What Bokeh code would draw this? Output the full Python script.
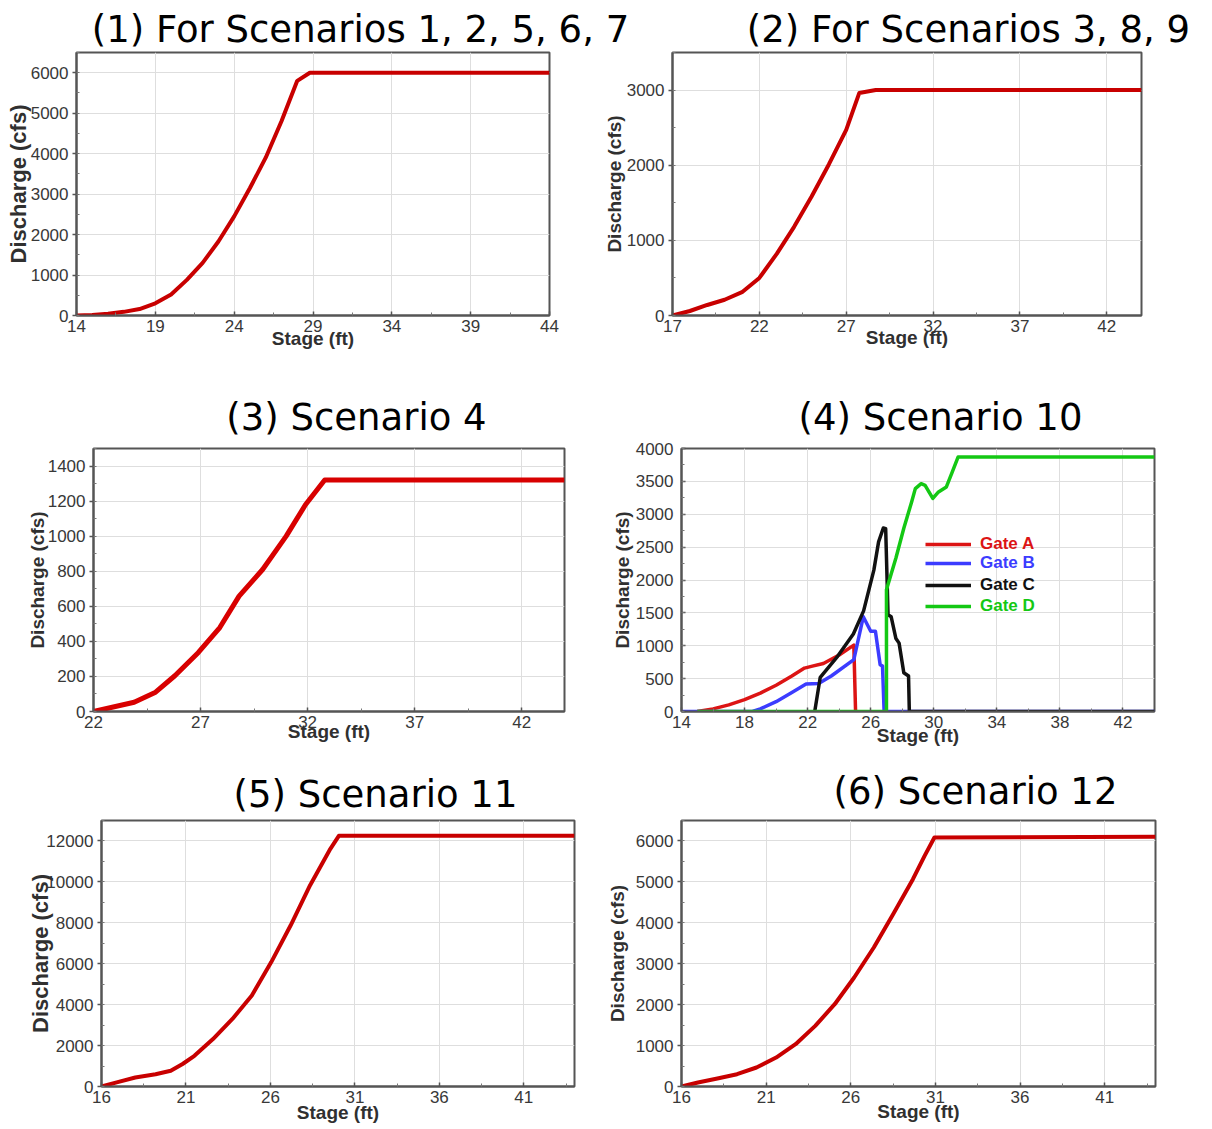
from bokeh.plotting import figure
from bokeh.models import Range1d, FixedTicker, SingleIntervalTicker, Label, Legend, LegendItem
from bokeh.layouts import column, row
from bokeh.embed import file_html
from bokeh.resources import INLINE
from bokeh.core.properties import value

# ---------------- data ----------------
titles = ["(1) For Scenarios 1, 2, 5, 6, 7", "(2) For Scenarios 3, 8, 9",
          "(3) Scenario 4", "(4) Scenario 10", "(5) Scenario 11", "(6) Scenario 12"]
x_label = "Stage (ft)"
y_label = "Discharge (cfs)"

stage1 = [14, 15, 16, 17, 18, 19, 20, 21, 22, 23, 24, 25, 26, 27, 28, 28.8, 44]
flow1 = [0, 15, 45, 90, 160, 300, 520, 880, 1300, 1830, 2450, 3150, 3900, 4800, 5800, 6000, 6000]

stage2 = [17, 18, 19, 20, 21, 22, 23, 24, 25, 26, 27, 27.75, 28.7, 44]
flow2 = [0, 60, 140, 210, 310, 500, 820, 1180, 1580, 2010, 2470, 2960, 3000, 3000]

stage3 = [22, 23.9, 24.9, 25.8, 26.9, 27.9, 28.8, 29.9, 31.0, 31.9, 32.8, 44]
flow3 = [0, 53, 110, 204, 337, 479, 658, 810, 1000, 1179, 1320, 1320]

stage4_a = [15, 16, 17, 18, 19, 20, 21, 21.8, 22.3, 23, 24, 24.93, 25.04]
gate_a = [0, 40, 100, 180, 280, 400, 540, 660, 690, 730, 860, 1010, 0]
stage4_b = [14, 18.5, 19, 20, 21, 21.9, 22.7, 23.5, 24.93, 25.53, 26.0, 26.3, 26.6, 26.75, 26.85, 44]
gate_b = [0, 0, 40, 150, 290, 420, 425, 540, 790, 1440, 1220, 1220, 710, 690, 0, 0]
stage4_c = [22.45, 22.8, 23.9, 24.9, 25.55, 26.2, 26.5, 26.8, 26.95, 27.1, 27.3, 27.6, 27.8, 28.1, 28.4, 28.45, 44]
gate_c = [0, 520, 840, 1180, 1530, 2150, 2580, 2790, 2780, 1470, 1440, 1110, 1040, 590, 540, 0, 0]
stage4_d = [15, 27.0, 27.0, 27.6, 28.1, 28.6, 28.83, 29.2, 29.45, 29.94, 30.3, 30.8, 31.17, 31.54, 44]
gate_d = [0, 0, 1850, 2335, 2787, 3190, 3390, 3465, 3440, 3240, 3340, 3415, 3640, 3870, 3870]
gate_names = ["Gate A", "Gate B", "Gate C", "Gate D"]
gate_colors = ["#dc1414", "#3c3cff", "#111111", "#14c814"]

stage5 = [16, 16.9, 18.0, 19.2, 20.1, 20.8, 21.5, 22.6, 23.75, 24.9, 26.05, 27.2, 28.35, 29.5, 30.05, 44]
flow5 = [0, 200, 440, 600, 770, 1100, 1500, 2320, 3300, 4450, 6080, 7880, 9840, 11550, 12250, 12250]

stage6 = [16, 16.97, 18.12, 19.28, 20.43, 21.59, 22.74, 23.9, 25.05, 26.2, 27.36, 28.5, 29.67, 30.36, 30.94, 44]
flow6 = [0, 98, 195, 301, 464, 708, 1034, 1482, 2011, 2663, 3396, 4210, 5065, 5635, 6083, 6100]

xticks1 = [14, 19, 24, 29, 34, 39, 44]
xticks2 = [17, 22, 27, 32, 37, 42]
xticks3 = [22, 27, 32, 37, 42]
xticks4 = [14, 18, 22, 26, 30, 34, 38, 42]
xticks5 = [16, 21, 26, 31, 36, 41]
xticks6 = [16, 21, 26, 31, 36, 41]

TITLE_FONT = "DejaVu Sans"
AX_FONT = "Liberation Sans"
PAGE_W = 1212


def panel(w, h, borders, xr, yr, xticks, ystep, xstd, ystd, ylab_size, ytick_in=False):
    l, r, t, b = borders
    p = figure(width=w, height=h, x_range=Range1d(*xr), y_range=Range1d(*yr),
               output_backend="svg", toolbar_location=None,
               min_border_left=l, min_border_right=r, min_border_top=t, min_border_bottom=b,
               background_fill_color="white", border_fill_color="white")
    p.outline_line_color = "#555555"
    p.outline_line_width = 2
    step = xticks[1] - xticks[0]
    p.xaxis.ticker = FixedTicker(ticks=xticks,
                                 minor_ticks=[v + step / 2 for v in xticks if v + step / 2 < xr[1]])
    p.yaxis.ticker = SingleIntervalTicker(interval=ystep, num_minor_ticks=2)
    p.grid.grid_line_color = "#dedede"
    p.grid.grid_line_width = 1
    for ax in p.axis:
        ax.axis_line_color = "#555555"
        ax.axis_line_width = 2
        ax.major_tick_line_color = "#555555"
        ax.major_tick_line_width = 1.5
        ax.minor_tick_line_color = "#777777"
        ax.minor_tick_in = 3
        ax.minor_tick_out = 0
        ax.major_label_text_font = AX_FONT
        ax.major_label_text_font_size = "17px"
        ax.major_label_text_color = "#383838"
        ax.axis_label_text_font = AX_FONT
        ax.axis_label_text_font_style = "bold"
        ax.axis_label_text_color = "#303030"
    p.xaxis.axis_label = x_label
    p.xaxis.axis_label_text_font_size = "19px"
    p.xaxis.major_tick_in = 4
    p.xaxis.major_tick_out = 0
    p.xaxis.major_label_standoff = 4
    p.xaxis.axis_label_standoff = xstd
    p.yaxis.axis_label = y_label
    p.yaxis.axis_label_text_font_size = ylab_size
    if ytick_in:
        p.yaxis.major_tick_in = 4
        p.yaxis.major_tick_out = 0
        p.yaxis.major_label_standoff = 8
    else:
        p.yaxis.major_tick_in = 0
        p.yaxis.major_tick_out = 4
        p.yaxis.major_label_standoff = 4
    p.yaxis.axis_label_standoff = ystd
    return p


def band(h, labels):
    b = figure(width=PAGE_W, height=h, x_range=Range1d(0, PAGE_W), y_range=Range1d(0, h),
               output_backend="svg", toolbar_location=None, min_border=0,
               x_axis_type=None, y_axis_type=None, outline_line_color=None,
               background_fill_color="white", border_fill_color="white")
    for (cx, cy, txt) in labels:
        b.add_layout(Label(x=cx, y=cy, text=txt, text_font=TITLE_FONT, text_font_size="37px",
                           text_align="center", text_baseline="middle", text_color="black"))
    return b


RED = "#c80000"

# row 1 : page y 51..380, frames 52..315
p1 = panel(600, 329, (76, 51, 1, 65), (14, 44), (0, 6500), xticks1, 1000, -7, -3, "22px")
p1.line(stage1, flow1, line_color=RED, line_width=4, line_join="round")

p2 = panel(612, 329, (68, 71, 1, 65), (17, 44), (0, 3500), xticks2, 1000, -8, -1, "19px")
p2.line(stage2, flow2, line_color=RED, line_width=4, line_join="round")

# row 2 : page y 438..758, frames 448..711
p3 = panel(600, 320, (93, 36, 10, 47), (22, 44), (0, 1500), xticks3, 200, -10, -3, "19px")
p3.line(stage3, flow3, line_color="#d80000", line_width=5, line_join="round")

p4 = panel(612, 320, (81, 58, 10, 47), (14, 44), (0, 4000), xticks4, 500, -6, 0, "19px", ytick_in=True)
rend = []
for xs, ys, c in zip([stage4_a, stage4_b, stage4_c, stage4_d], [gate_a, gate_b, gate_c, gate_d], gate_colors):
    rend.append(p4.line(xs, ys, line_color=c, line_width=3.5, line_join="round"))
leg_y = [157, 138, 116, 95]
for r_, name, c, ly in zip(rend, gate_names, gate_colors, leg_y):
    lg = Legend(items=[LegendItem(label=value(name), renderers=[r_])], location=(244, ly),
                orientation="vertical", glyph_width=46, glyph_height=20, label_height=20,
                label_standoff=9, padding=0, margin=0, spacing=0,
                border_line_color=None, background_fill_alpha=0,
                label_text_font=AX_FONT, label_text_font_style="bold",
                label_text_font_size="17px", label_text_color=c)
    p4.add_layout(lg)

# row 3 : page y 816..1128, frames 820..1086
p5 = panel(600, 312, (101, 26, 4, 42), (16, 44), (0, 13000), xticks5, 2000, -4, -10, "22px")
p5.line(stage5, flow5, line_color=RED, line_width=4, line_join="round")

p6 = panel(612, 312, (81, 57, 4, 42), (16, 44), (0, 6500), xticks6, 1000, -5, 5, "19px")
p6.line(stage6, flow6, line_color=RED, line_width=4, line_join="round")

b1 = band(51, [(360, 22.5, titles[0]), (968, 22.5, titles[1])])
b2 = band(58, [(356, 21, titles[2]), (940, 21, titles[3])])
b3 = band(58, [(375, 22, titles[4]), (975, 25, titles[5])])

layout = column(b1, row(p1, p2), b2, row(p3, p4), b3, row(p5, p6))

open("out.html", "w").write(file_html(layout, INLINE, "Rating curves"))
